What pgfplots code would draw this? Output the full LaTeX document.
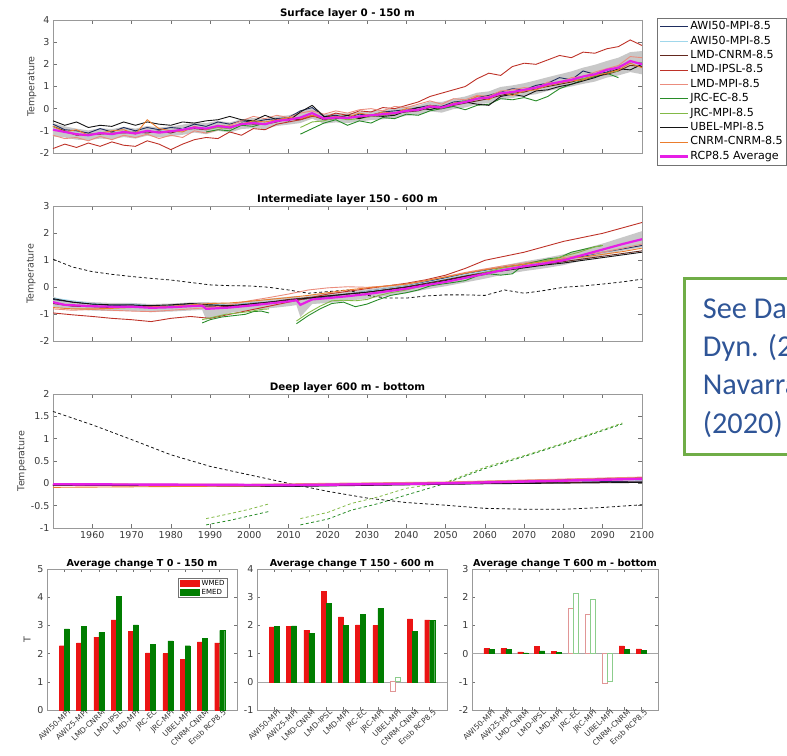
\documentclass[border=0pt]{standalone}
\usepackage{fontspec}
\setmainfont{DejaVu Sans}
\newfontfamily\carlito{Carlito}
\usepackage{pgfplots}
\pgfplotsset{compat=1.18}
\usepackage{pgfplotstable}

\definecolor{colawi}{RGB}{30,45,95}
\definecolor{colawib}{RGB}{160,215,235}
\definecolor{collcn}{RGB}{100,40,30}
\definecolor{colipsl}{RGB}{190,50,40}
\definecolor{collmp}{RGB}{235,140,125}
\definecolor{coljec}{RGB}{40,140,40}
\definecolor{coljmp}{RGB}{130,185,70}
\definecolor{colube}{RGB}{20,20,20}
\definecolor{colcnr}{RGB}{235,125,45}
\definecolor{colavg}{RGB}{230,30,230}
\definecolor{colband}{RGB}{200,200,200}
\definecolor{wred}{RGB}{235,20,20}
\definecolor{egreen}{RGB}{0,125,0}
\definecolor{wredl}{RGB}{225,150,150}
\definecolor{egreenl}{RGB}{140,205,140}
\definecolor{boxgreen}{RGB}{112,173,71}
\definecolor{boxblue}{RGB}{47,85,151}

\pgfplotsset{
  mystyle/.style={
    scale only axis,
    axis line style={draw=black!40},
    tick style={draw=black!55, line width=0.5pt},
    major tick length=4pt,
    tick label style={font=\fontsize{9.5}{11}\selectfont, text=black!78},
    /pgf/number format/assume math mode=true,
    /pgf/number format/1000 sep={},
    title style={font=\bfseries\fontsize{10.3}{12}\selectfont, at={(0.5,1)}, anchor=base, yshift=-2.7pt},
    label style={font=\fontsize{9.5}{11}\selectfont, text=black!75},
    unbounded coords=jump,
  },
  tsstyle/.style={mystyle, width=589pt, xmin=1950, xmax=2100,
    xtick={1960,1970,...,2100}},
}

\pgfplotstableread{
yr a50 a25 lcn lip lmp jec jmp ube cnr avg
1950 -0.70 -0.85 -0.80 -1.80 -1.20 nan nan -0.55 -0.80 -0.95
1953 -0.95 -1.10 -1.00 -1.60 -1.35 nan nan -0.75 -1.05 -1.05
1956 -1.00 -1.10 -1.20 -1.75 -1.30 nan nan -0.60 -0.95 -1.15
1959 -1.10 -1.25 -1.15 -1.55 -1.45 nan nan -0.85 -1.20 -1.20
1962 -0.90 -1.05 -1.15 -1.70 -1.25 nan nan -0.75 -1.10 -1.10
1965 -1.05 -1.20 -1.10 -1.50 -1.40 nan nan -0.80 -1.00 -1.15
1968 -0.85 -1.00 -1.10 -1.65 -1.20 nan nan -0.60 -0.95 -1.05
1971 -1.00 -1.10 -1.05 -1.70 -1.30 nan nan -0.75 -1.15 -1.12
1974 -0.85 -1.05 -1.10 -1.45 -1.15 nan nan -0.60 -0.50 -1.00
1977 -0.95 -1.00 -1.00 -1.60 -1.35 nan nan -0.70 -0.90 -1.08
1980 -0.85 -1.05 -1.10 -1.85 -1.20 nan nan -0.75 -1.00 -1.02
1983 -0.90 -0.90 -0.95 -1.60 -1.30 nan nan -0.60 -1.05 -0.95
1986 -0.70 -0.90 -0.90 -1.40 -1.00 nan nan -0.65 -0.80 -0.85
1989 -0.80 -0.85 -0.95 -1.30 -1.10 -1.05 -0.95 -0.55 -0.95 -0.90
1992 -0.60 -0.80 -0.80 -1.35 -0.95 -0.95 -0.85 -0.50 -0.75 -0.78
1995 -0.70 -0.80 -0.90 -1.05 -0.75 -1.00 -0.90 -0.35 -0.80 -0.85
1998 -0.55 -0.75 -0.65 -1.20 -0.55 -0.75 -0.70 -0.50 -0.70 -0.70
2001 -0.60 -0.60 -0.70 -0.90 -0.35 -0.80 -0.60 -0.55 -0.55 -0.65
2004 -0.50 -0.75 -0.70 -0.95 -0.45 -0.65 -0.70 -0.30 -0.60 -0.70
2007 -0.45 -0.50 -0.60 -0.70 -0.30 nan nan -0.50 -0.50 -0.55
2010 -0.40 -0.55 -0.45 -0.60 -0.40 nan nan -0.55 -0.40 -0.50
2013 -0.10 -0.35 -0.50 -0.50 -0.20 -1.15 -0.85 -0.15 -0.45 -0.40
2016 0.05 -0.25 -0.30 -0.35 -0.10 -0.90 -0.60 0.15 -0.30 -0.20
2019 -0.35 -0.50 -0.50 -0.40 -0.25 -0.65 -0.55 -0.35 -0.45 -0.45
2022 -0.30 -0.35 -0.45 -0.20 -0.10 -0.50 -0.40 -0.40 -0.35 -0.40
2025 -0.40 -0.45 -0.40 -0.30 -0.20 -0.75 -0.50 -0.30 -0.40 -0.42
2028 -0.25 -0.30 -0.40 -0.10 -0.05 -0.55 -0.45 -0.45 -0.20 -0.35
2031 -0.30 -0.35 -0.35 -0.15 0.00 -0.65 -0.35 -0.30 -0.30 -0.30
2034 -0.15 -0.20 -0.30 0.05 -0.10 -0.40 -0.30 -0.35 -0.15 -0.25
2037 -0.10 -0.25 -0.20 0.00 0.10 -0.45 -0.25 -0.30 -0.20 -0.20
2040 -0.05 -0.05 -0.15 0.15 0.05 -0.25 -0.10 -0.10 0.00 -0.10
2043 0.05 -0.10 -0.10 0.30 0.20 -0.30 -0.05 0.05 -0.05 -0.05
2046 0.15 0.15 0.05 0.55 0.35 -0.10 0.10 -0.05 0.15 0.10
2049 0.10 0.00 0.00 0.70 0.20 0.00 0.05 0.10 0.05 0.05
2052 0.30 0.25 0.15 0.85 0.45 0.10 0.25 0.20 0.25 0.20
2055 0.35 0.25 0.25 1.00 0.40 -0.05 0.35 0.30 0.30 0.30
2058 0.50 0.50 0.35 1.35 0.60 0.15 0.45 0.20 0.55 0.45
2061 0.60 0.45 0.45 1.60 0.55 0.20 0.50 0.15 0.40 0.50
2064 0.75 0.75 0.60 1.50 0.80 0.45 0.70 0.55 0.75 0.70
2067 0.90 0.70 0.70 1.90 0.85 0.40 0.70 0.65 0.60 0.75
2070 0.85 0.90 0.75 2.05 0.95 0.50 0.85 0.55 0.80 0.85
2073 1.05 0.90 0.90 2.00 0.90 0.35 0.95 0.80 0.85 0.95
2076 1.15 1.15 1.00 2.20 1.20 0.55 1.05 0.85 1.05 1.10
2079 1.40 1.15 1.10 2.40 1.15 0.90 1.15 1.00 1.15 1.20
2082 1.30 1.35 1.20 2.30 1.40 1.10 1.30 1.10 1.25 1.30
2085 1.70 1.40 1.35 2.55 1.45 1.30 1.35 1.25 1.30 1.45
2088 1.55 1.60 1.45 2.50 1.65 1.45 1.50 1.40 1.50 1.55
2091 1.65 1.70 1.55 2.70 1.80 1.60 1.60 1.60 1.60 1.75
2094 1.90 1.90 1.70 2.80 1.95 1.40 1.70 1.80 1.75 1.85
2097 2.10 2.10 1.95 3.10 2.35 nan nan 1.75 2.05 2.15
2100 2.05 1.95 1.90 2.85 2.30 nan nan 2.00 1.85 2.00
}\toptab

\pgfplotstableread{
yr a50 a25 lcn lip lmp ube cnr dsh
1950 -0.45 -0.40 -0.60 -0.95 -0.80 -0.42 -0.75 1.04
1955 -0.55 -0.50 -0.70 -1.02 -0.85 -0.55 -0.80 0.75
1960 -0.62 -0.60 -0.72 -1.08 -0.82 -0.62 -0.80 0.58
1965 -0.68 -0.65 -0.75 -1.15 -0.85 -0.65 -0.78 0.48
1970 -0.65 -0.62 -0.70 -1.20 -0.88 -0.65 -0.75 0.40
1975 -0.70 -0.68 -0.72 -1.27 -0.90 -0.68 -0.72 0.33
1980 -0.68 -0.70 -0.72 -1.15 -0.85 -0.65 -0.70 0.27
1985 -0.62 -0.65 -0.70 -1.08 -0.80 -0.60 -0.65 0.18
1990 -0.65 -0.62 -0.70 -1.15 -0.75 -0.65 -0.60 0.09
1995 -0.68 -0.66 -0.72 -1.00 -0.65 -0.68 -0.58 0.06
2000 -0.60 -0.60 -0.62 -0.85 -0.50 -0.62 -0.52 0.05
2005 -0.55 -0.55 -0.55 -0.70 -0.38 -0.55 -0.45 0.00
2010 -0.50 -0.50 -0.45 -0.55 -0.25 -0.48 -0.38 -0.10
2015 -0.42 -0.40 -0.38 -0.40 -0.10 -0.40 -0.30 -0.22
2020 -0.35 -0.32 -0.32 -0.25 -0.02 -0.32 -0.20 -0.16
2025 -0.25 -0.25 -0.25 -0.15 0.02 -0.25 -0.10 -0.10
2030 -0.15 -0.15 -0.18 -0.05 0.00 -0.18 -0.02 -0.30
2035 -0.05 -0.05 -0.08 0.05 0.05 -0.10 0.05 -0.40
2040 0.05 0.05 0.02 0.15 0.12 0.00 0.12 -0.40
2045 0.20 0.18 0.15 0.28 0.25 0.12 0.25 -0.32
2050 0.35 0.32 0.28 0.45 0.40 0.25 0.38 -0.28
2055 0.50 0.48 0.42 0.70 0.55 0.40 0.52 -0.28
2060 0.62 0.60 0.55 1.00 0.68 0.52 0.65 -0.30
2065 0.75 0.72 0.65 1.15 0.80 0.62 0.75 -0.10
2070 0.85 0.82 0.75 1.30 0.90 0.72 0.85 -0.22
2075 0.95 0.95 0.85 1.50 1.00 0.82 0.95 -0.12
2080 1.05 1.05 0.95 1.70 1.10 0.90 1.05 0.00
2085 1.15 1.18 1.05 1.85 1.20 1.00 1.12 0.05
2090 1.30 1.30 1.15 2.00 1.30 1.10 1.22 0.12
2095 1.42 1.45 1.25 2.20 1.45 1.20 1.32 0.20
2100 1.55 1.60 1.35 2.40 1.60 1.30 1.45 0.30
}\midtab

\begin{document}
\begin{tikzpicture}

% ---------------- Surface layer ----------------
\begin{axis}[tsstyle, at={(53pt,602pt)}, anchor=south west, height=133pt,
  ymin=-2, ymax=4, ytick={-2,...,4}, xticklabels={},
  title={Surface layer 0 - 150 m}, ylabel={Temperature},
  ylabel style={at={(axis description cs:-0.036,0.5)}, anchor=center},
  legend image code/.code={\draw[#1] (0pt,0pt) -- (28pt,0pt);},
  legend cell align=left,
  legend style={at={(1,1)}, anchor=north west, xshift=15pt, yshift=2pt,
    font=\fontsize{11.1}{13}\selectfont, draw=black!55, inner xsep=2pt, inner ysep=1.5pt,
    row sep=0pt, nodes={inner sep=1pt, text height=9pt, text depth=3.4pt}},
]
\addplot[fill=colband, draw=none, forget plot] coordinates {
(1950,-1.25)(1953,-1.30)(1956,-1.40)(1959,-1.42)(1962,-1.35)(1965,-1.38)(1968,-1.28)(1971,-1.35)(1974,-1.22)(1977,-1.30)(1980,-1.25)(1983,-1.18)(1986,-1.08)(1989,-1.15)(1992,-1.00)(1995,-1.08)(1998,-0.92)(2001,-0.88)(2004,-0.92)(2007,-0.78)(2010,-0.72)(2013,-0.65)(2016,-0.45)(2019,-0.68)(2022,-0.62)(2025,-0.65)(2028,-0.58)(2031,-0.52)(2034,-0.48)(2037,-0.42)(2040,-0.32)(2043,-0.28)(2046,-0.12)(2049,-0.18)(2052,-0.02)(2055,0.05)(2058,0.20)(2061,0.25)(2064,0.42)(2067,0.48)(2070,0.58)(2073,0.65)(2076,0.80)(2079,0.90)(2082,1.00)(2085,1.12)(2088,1.22)(2091,1.40)(2094,1.50)(2097,1.65)(2100,1.55)
(2100,2.60)(2097,2.55)(2094,2.30)(2091,2.15)(2088,1.98)(2085,1.85)(2082,1.68)(2079,1.55)(2076,1.42)(2073,1.28)(2070,1.15)(2067,1.05)(2064,0.98)(2061,0.78)(2058,0.72)(2055,0.55)(2052,0.45)(2049,0.30)(2046,0.32)(2043,0.15)(2040,0.10)(2037,0.00)(2034,-0.05)(2031,-0.10)(2028,-0.15)(2025,-0.22)(2022,-0.20)(2019,-0.25)(2016,0.05)(2013,-0.15)(2010,-0.30)(2007,-0.35)(2004,-0.48)(2001,-0.42)(1998,-0.48)(1995,-0.62)(1992,-0.55)(1989,-0.65)(1986,-0.62)(1983,-0.72)(1980,-0.80)(1977,-0.85)(1974,-0.78)(1971,-0.90)(1968,-0.82)(1965,-0.92)(1962,-0.88)(1959,-0.98)(1956,-0.90)(1953,-0.80)(1950,-0.65)};
\addplot[colawi, line width=0.9pt] table[x=yr, y=a50] {\toptab};
\addlegendentry{AWI50-MPI-8.5}
\addplot[colawib, line width=0.9pt] table[x=yr, y=a25] {\toptab};
\addlegendentry{AWI50-MPI-8.5}
\addplot[collcn, line width=0.9pt] table[x=yr, y=lcn] {\toptab};
\addlegendentry{LMD-CNRM-8.5}
\addplot[colipsl, line width=0.9pt] table[x=yr, y=lip] {\toptab};
\addlegendentry{LMD-IPSL-8.5}
\addplot[collmp, line width=0.9pt] table[x=yr, y=lmp] {\toptab};
\addlegendentry{LMD-MPI-8.5}
\addplot[coljec, line width=0.9pt] table[x=yr, y=jec] {\toptab};
\addlegendentry{JRC-EC-8.5}
\addplot[coljmp, line width=0.9pt] table[x=yr, y=jmp] {\toptab};
\addlegendentry{JRC-MPI-8.5}
\addplot[colube, line width=0.9pt] table[x=yr, y=ube] {\toptab};
\addlegendentry{UBEL-MPI-8.5}
\addplot[colcnr, line width=0.9pt] table[x=yr, y=cnr] {\toptab};
\addlegendentry{CNRM-CNRM-8.5}
\addplot[colavg, line width=2.2pt] table[x=yr, y=avg] {\toptab};
\addlegendentry{RCP8.5 Average}
\end{axis}

% ---------------- Intermediate layer ----------------
\begin{axis}[tsstyle, at={(53pt,413.7pt)}, anchor=south west, height=135pt,
  ymin=-2, ymax=3, ytick={-2,...,3}, xticklabels={},
  title={Intermediate layer 150 - 600 m}, ylabel={Temperature},
  ylabel style={at={(axis description cs:-0.037,0.5)}, anchor=center},
]
\addplot[fill=colband, draw=none] coordinates {
(1950,-0.72)(1953,-0.80)(1960,-0.86)(1965,-0.88)(1970,-0.88)(1975,-0.92)(1980,-0.90)(1985,-0.86)(1988,-0.84)(1989,-1.20)(1995,-0.95)(2000,-0.85)(2005,-0.78)(2010,-0.70)(2012,-0.66)(2013,-1.10)(2016,-0.62)(2020,-0.58)(2025,-0.50)(2030,-0.42)(2035,-0.32)(2040,-0.22)(2045,-0.08)(2050,0.04)(2055,0.18)(2060,0.32)(2065,0.48)(2070,0.60)(2075,0.70)(2080,0.82)(2085,1.00)(2090,1.18)(2095,1.35)(2100,1.48)
(2100,2.08)(2095,1.85)(2090,1.62)(2085,1.42)(2080,1.22)(2075,1.08)(2070,0.96)(2065,0.82)(2060,0.68)(2055,0.52)(2050,0.38)(2045,0.25)(2040,0.12)(2035,0.02)(2030,-0.08)(2025,-0.15)(2020,-0.22)(2016,-0.28)(2013,-0.38)(2012,-0.32)(2010,-0.35)(2005,-0.42)(2000,-0.52)(1995,-0.58)(1989,-0.55)(1988,-0.55)(1985,-0.56)(1980,-0.60)(1975,-0.62)(1970,-0.58)(1965,-0.58)(1960,-0.55)(1953,-0.48)(1950,-0.35)};
\addplot[colube, line width=0.8pt, dash pattern=on 3pt off 2.5pt] table[x=yr, y=dsh] {\midtab};
\addplot[colawi, line width=0.9pt] table[x=yr, y=a50] {\midtab};
\addplot[colawib, line width=0.9pt] table[x=yr, y=a25] {\midtab};
\addplot[collcn, line width=0.9pt] table[x=yr, y=lcn] {\midtab};
\addplot[colipsl, line width=0.9pt] table[x=yr, y=lip] {\midtab};
\addplot[collmp, line width=0.9pt] table[x=yr, y=lmp] {\midtab};
\addplot[coljec, line width=0.9pt] coordinates {(1988,-1.32)(1990,-1.2)(1993,-1.1)(1996,-1.05)(1999,-1.0)(2001,-0.9)(2003,-0.88)(2005,-0.95)};
\addplot[coljec, line width=0.9pt] coordinates {(2012,-1.35)(2015,-1.05)(2018,-0.8)(2021,-0.6)(2024,-0.55)(2027,-0.72)(2030,-0.62)(2033,-0.45)(2036,-0.3)(2040,-0.2)(2043,-0.1)(2046,0.05)(2049,0.12)(2052,0.18)(2055,0.25)(2058,0.42)(2061,0.5)(2064,0.45)(2067,0.5)(2070,0.85)(2073,0.95)(2076,1.05)(2079,1.1)(2082,1.3)(2085,1.4)(2088,1.5)(2090,1.55)};
\addplot[coljmp, line width=0.9pt] coordinates {(1988,-1.2)(1991,-1.1)(1994,-1.0)(1997,-0.95)(2000,-0.9)(2003,-0.82)(2005,-0.8)};
\addplot[coljmp, line width=0.9pt] coordinates {(2012,-1.25)(2015,-0.95)(2018,-0.7)(2021,-0.5)(2024,-0.48)(2027,-0.5)(2030,-0.45)(2033,-0.3)(2036,-0.2)(2040,-0.1)(2044,0.05)(2048,0.18)(2052,0.25)(2056,0.4)(2060,0.55)(2064,0.7)(2068,0.8)(2072,0.9)(2076,1.0)(2080,1.15)(2084,1.3)(2088,1.5)(2090,1.55)};
\addplot[colube, line width=0.9pt] table[x=yr, y=ube] {\midtab};
\addplot[colcnr, line width=0.9pt] table[x=yr, y=cnr] {\midtab};
\addplot[colavg, line width=2.2pt] coordinates {(1950,-0.55)(1953,-0.65)(1960,-0.70)(1965,-0.72)(1970,-0.72)(1975,-0.76)(1980,-0.74)(1985,-0.70)(1988,-0.68)(1989,-0.80)(1995,-0.75)(2000,-0.68)(2005,-0.60)(2010,-0.52)(2012,-0.48)(2013,-0.65)(2016,-0.45)(2020,-0.40)(2025,-0.33)(2030,-0.25)(2035,-0.15)(2040,-0.05)(2045,0.08)(2050,0.20)(2055,0.35)(2060,0.50)(2065,0.65)(2070,0.78)(2075,0.88)(2080,1.00)(2085,1.20)(2090,1.40)(2095,1.60)(2100,1.78)};
\end{axis}

% ---------------- Deep layer ----------------
\begin{axis}[tsstyle, at={(53pt,227pt)}, anchor=south west, height=134pt,
  ymin=-1, ymax=2, ytick={-1,-0.5,...,2},
  title={Deep layer 600 m - bottom}, ylabel={Temperature},
  ylabel style={at={(axis description cs:-0.053,0.5)}, anchor=center},
]
\addplot[colube, line width=0.8pt, dash pattern=on 3pt off 2.5pt] coordinates {(1950,1.61)(1960,1.31)(1970,0.98)(1980,0.64)(1990,0.38)(2000,0.19)(2010,0.0)(2020,-0.18)(2030,-0.33)(2040,-0.43)(2050,-0.49)(2060,-0.56)(2070,-0.58)(2080,-0.58)(2090,-0.54)(2100,-0.48)};
\addplot[coljmp, line width=0.8pt, dash pattern=on 3pt off 2.5pt] coordinates {(1989,-0.79)(1995,-0.68)(2000,-0.58)(2005,-0.46)};
\addplot[coljec, line width=0.8pt, dash pattern=on 3pt off 2.5pt] coordinates {(1989,-0.93)(1995,-0.83)(2000,-0.73)(2005,-0.63)};
\addplot[coljmp, line width=0.8pt, dash pattern=on 3pt off 2.5pt] coordinates {(2013,-0.79)(2020,-0.65)(2026,-0.45)(2033,-0.3)(2040,-0.11)(2050,0.02)(2060,0.36)(2070,0.62)(2080,0.9)(2090,1.2)(2095,1.35)};
\addplot[coljec, line width=0.8pt, dash pattern=on 3pt off 2.5pt] coordinates {(2013,-0.93)(2020,-0.8)(2026,-0.6)(2033,-0.45)(2040,-0.26)(2050,0.0)(2060,0.33)(2070,0.6)(2080,0.88)(2090,1.18)(2095,1.33)};
\addplot[colawi, line width=0.9pt] coordinates {(1950,-0.03)(1980,-0.04)(2010,-0.06)(2030,-0.04)(2060,0.0)(2100,0.05)};
\addplot[colawib, line width=0.9pt] coordinates {(1950,-0.02)(2000,-0.03)(2050,0.01)(2100,0.08)};
\addplot[collcn, line width=0.9pt] coordinates {(1950,-0.04)(2000,-0.05)(2050,-0.01)(2100,0.03)};
\addplot[colipsl, line width=0.9pt] coordinates {(1950,-0.03)(2000,-0.04)(2050,0.02)(2100,0.13)};
\addplot[collmp, line width=0.9pt] coordinates {(1950,-0.01)(2000,-0.02)(2050,0.03)(2100,0.14)};
\addplot[colube, line width=0.9pt] coordinates {(1950,-0.04)(2010,-0.07)(2060,-0.01)(2100,0.02)};
\addplot[colcnr, line width=0.9pt] coordinates {(1950,-0.09)(2000,-0.06)(2050,0.0)(2100,0.09)};
\addplot[colavg, line width=2.4pt] coordinates {(1950,-0.02)(1980,-0.03)(2010,-0.04)(2050,0.0)(2100,0.1)};
\end{axis}

% ---------------- Bar panels ----------------
\pgfplotsset{barstyle/.style={mystyle, width=190pt, height=141pt,
  xmin=0, xmax=11, xtick={1,...,10}, major tick length=3pt,
  xticklabels={AWI50-MPI,AWI25-MPI,LMD-CNRM,LMD-IPSL,LMD-MPI,JRC-EC,JRC-MPI,UBEL-MPI,CNRM-CNRM,Ensb RCP8.5},
  xticklabel style={rotate=43, anchor=north east, font=\fontsize{7.6}{8}\selectfont, inner sep=1pt, xshift=4pt},
  title style={font=\bfseries\fontsize{9.6}{11}\selectfont, yshift=-0.6pt}}}

\begin{axis}[barstyle, at={(47pt,45pt)}, anchor=south west,
  ymin=0, ymax=5, ytick={0,...,5},
  title={Average change T 0 - 150 m}, ylabel={T},
  ylabel style={at={(axis description cs:-0.105,0.5)}, anchor=center},
  legend cell align=left,
  legend style={at={(1,1)}, anchor=north east, xshift=-10pt, yshift=-9pt,
    font=\fontsize{7}{8}\selectfont, draw=black!55, inner xsep=1.5pt, inner ysep=1pt,
    row sep=0pt, column sep=2pt, nodes={inner sep=0.8pt, text height=5.5pt, text depth=1.5pt}},
]
\addplot[ybar, bar width=5pt, bar shift=-2.5pt, fill=wred, draw=wred, forget plot] coordinates {(1,2.28)(2,2.38)(3,2.58)(4,3.2)(5,2.8)(6,2.03)(7,2.0)(8,1.8)(9,2.42)(10,2.38)};
\addplot[ybar, bar width=5pt, bar shift=2.5pt, fill=egreen, draw=egreen, forget plot] coordinates {(1,2.88)(2,2.97)(3,2.75)(4,4.03)(5,3.02)(6,2.32)(7,2.45)(8,2.28)(9,2.55)(10,2.82)};
\addlegendimage{legend image code/.code={\fill[wred] (0pt,-3pt) rectangle (19pt,3pt);}}
\addlegendentry{WMED}
\addlegendimage{legend image code/.code={\fill[egreen] (0pt,-3pt) rectangle (19pt,3pt);}}
\addlegendentry{EMED}
\end{axis}

\begin{axis}[barstyle, at={(257pt,45pt)}, anchor=south west,
  ymin=-1, ymax=4, ytick={-1,...,4},
  title={Average change T 150 - 600 m},
]
\addplot[black!35, line width=0.6pt] coordinates {(0,0)(11,0)};
\addplot[ybar, bar width=5pt, bar shift=-2.5pt, fill=wred, draw=wred] coordinates {(1,1.95)(2,1.97)(3,1.83)(4,3.2)(5,2.3)(6,2.02)(7,2.0)(9,2.23)(10,2.2)};
\addplot[ybar, bar width=5pt, bar shift=2.5pt, fill=egreen, draw=egreen] coordinates {(1,1.97)(2,1.98)(3,1.73)(4,2.78)(5,2.0)(6,2.4)(7,2.6)(9,1.78)(10,2.17)};
\addplot[ybar, bar width=5pt, bar shift=-2.5pt, fill=white, draw=wredl, line width=0.7pt] coordinates {(8,-0.35)};
\addplot[ybar, bar width=5pt, bar shift=2.5pt, fill=white, draw=egreenl, line width=0.7pt] coordinates {(8,0.17)};
\end{axis}

\begin{axis}[barstyle, width=186pt, at={(472pt,45pt)}, anchor=south west,
  ymin=-2, ymax=3, ytick={-2,...,3},
  title={Average change T 600 m - bottom},
]
\addplot[black!35, line width=0.6pt] coordinates {(0,0)(11,0)};
\addplot[ybar, bar width=5pt, bar shift=-2.5pt, fill=wred, draw=wred] coordinates {(1,0.18)(2,0.18)(3,0.06)(4,0.25)(5,0.07)(9,0.27)(10,0.17)};
\addplot[ybar, bar width=5pt, bar shift=2.5pt, fill=egreen, draw=egreen] coordinates {(1,0.15)(2,0.15)(3,0.03)(4,0.1)(5,0.04)(9,0.15)(10,0.12)};
\addplot[ybar, bar width=5pt, bar shift=-2.5pt, fill=none, draw=wredl, line width=0.7pt] coordinates {(6,1.62)(7,1.38)(8,-1.05)};
\addplot[ybar, bar width=5pt, bar shift=2.5pt, fill=none, draw=egreenl, line width=0.7pt] coordinates {(6,2.13)(7,1.93)(8,-0.98)};
\end{axis}

% ---------------- Text box ----------------
\draw[boxgreen, line width=3pt] (684pt,300pt) rectangle (820pt,476pt);
\begin{scope}[every node/.style={anchor=base west, inner sep=0pt, text=boxblue,
  font=\carlito\fontsize{30.3}{36}\selectfont}]
\node at (702.7pt,436.7pt) {See Darmaraki et al. Clim.};
\node at (702.7pt,398.4pt) {Dyn. (2019) and};
\node at (702.7pt,360.1pt) {Navarra et al.};
\node at (702.7pt,321.8pt) {(2020)};
\end{scope}
\pgfresetboundingbox
\path[use as bounding box] (0pt,0pt) rectangle (787pt,755pt);
\end{tikzpicture}
\end{document}
